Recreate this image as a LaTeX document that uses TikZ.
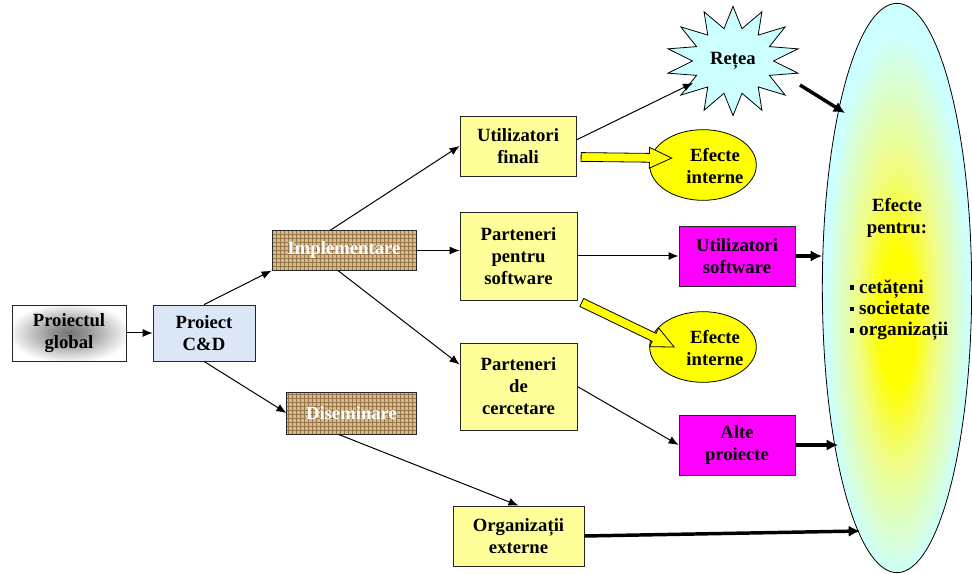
\documentclass[tikz,border=0pt]{standalone}
\usepackage{fontspec}
\setmainfont{Liberation Serif}
\usetikzlibrary{shapes.geometric,shapes.arrows,arrows.meta,calc,patterns}
\definecolor{lightyel}{RGB}{255,255,153}
\definecolor{brightyel}{RGB}{255,255,0}
\definecolor{pinkmag}{RGB}{255,0,255}
\definecolor{cdblue}{RGB}{219,231,246}
\definecolor{burlap}{RGB}{212,186,140}
\definecolor{burlapdk}{RGB}{150,118,72}
\definecolor{netcyan}{RGB}{204,255,255}
\definecolor{glowyel}{RGB}{255,255,0}
\definecolor{glowmid}{RGB}{240,252,130}
\pgfdeclareradialshading{effglow}{\pgfpoint{0bp}{-3bp}}{color(0bp)=(glowyel); color(6bp)=(glowyel); color(13bp)=(glowmid); color(24bp)=(netcyan); color(50bp)=(netcyan)}
\pgfdeclareradialshading{greyglow}{\pgfpointorigin}{color(0bp)=(black!55); color(8bp)=(black!42); color(27bp)=(white); color(50bp)=(white)}
\tikzset{
	lbl/.style={align=center, font=\fontsize{14}{16.5}\selectfont\bfseries},
	box/.style={lbl, draw=black!85, line width=0.6pt, inner sep=0pt},
	yelbox/.style={box, fill=lightyel},
	magbox/.style={box, fill=pinkmag},
	sackbox/.style={box, text=white, preaction={fill=burlap}, pattern=grid, pattern color=burlapdk},
	effoval/.style={ellipse, draw, fill=brightyel, line width=0.6pt, minimum width=80pt, minimum height=53pt, inner sep=0pt},
	thin/.style={line width=0.75pt, -{Latex[length=7.5pt,width=6pt]}},
	thick/.style={line width=2.6pt, -{Latex[length=8.5pt,width=8.5pt]}},
	fatarrow/.style={single arrow, draw, fill=brightyel, line width=0.6pt, inner sep=3pt,
		single arrow head extend=4.5pt, single arrow tip angle=50}
}
\newcommand{\yelarrow}[2]{%
	\path let \p1=(#1), \p2=(#2), \n1={atan2(\y2-\y1,\x2-\x1)}, \n2={veclen(\x2-\x1,\y2-\y1)} in
		node[fatarrow, minimum height=\n2, rotate=\n1] at ($(\p1)!0.5!(\p2)$) {};}

\begin{document}
\begin{tikzpicture}[x=0.75pt, y=-0.75pt]
	\useasboundingbox (0,0) rectangle (972,574);

	% big oval on the right
	\node[ellipse, draw, line width=0.6pt, shading=effglow,
		minimum width=112pt, minimum height=427pt] (eff) at (897,288) {};
	\node[lbl] (efftitle) at (897,218) {Efecte\\pentru:};
	\node[lbl, anchor=west, align=left, font=\fontsize{14.5}{16}\selectfont\bfseries] (efflist) at (845,310)
		{\rule[0.15em]{3.5pt}{3.5pt} cetățeni\\ \rule[0.15em]{3.5pt}{3.5pt} societate\\ \rule[0.15em]{3.5pt}{3.5pt} organizații};

	% boxes
	\node[box, shading=greyglow, minimum width=85.5pt, minimum height=42pt] (global) at (69,333) {Proiectul\\global};
	\node[box, fill=cdblue, minimum width=76.5pt, minimum height=42pt] (cd) at (204,333) {Proiect\\C\&D};
	\node[sackbox, minimum width=108pt, minimum height=29.5pt] (impl) at (344,250.5) {Implementare};
	\node[sackbox, minimum width=97pt, minimum height=31.5pt] (disem) at (351.5,413) {Diseminare};
	\node[yelbox, minimum width=87pt, minimum height=45pt] (uf) at (518,146) {Utilizatori\\finali};
	\node[yelbox, minimum width=87.75pt, minimum height=66pt] (ps) at (518.5,256) {Parteneri\\pentru\\software};
	\node[yelbox, minimum width=87.75pt, minimum height=65.25pt] (pc) at (518.5,386.5) {Parteneri\\de\\cercetare};
	\node[yelbox, minimum width=98.25pt, minimum height=45pt] (oe) at (518.5,536) {Organizații\\externe};
	\node[magbox, minimum width=87pt, minimum height=45pt] (us) at (737,256) {Utilizatori\\software};
	\node[magbox, minimum width=87pt, minimum height=45pt] (ap) at (737,445) {Alte\\proiecte};
	\node[effoval] (ei1) at (703,165) {};
	\node[lbl] (ei1lbl) at (715,166) {Efecte\\interne};
	\node[effoval] (ei2) at (703,347) {};
	\node[lbl] (ei2lbl) at (715,348) {Efecte\\interne};
	\node[star, star points=14, star point ratio=1.65, draw, fill=netcyan, line width=0.6pt,
		minimum size=82pt, inner sep=0pt, xscale=1.22] (net) at (733,61) {};
	\node[lbl] (netlbl) at (net) {Rețea};

	% end points on the oval and the star
	\coordinate (netin) at (693,83);
	\coordinate (netout) at (800,85);
	\coordinate (effA) at (845,113);
	\coordinate (effC) at (838,445);
	\coordinate (effD) at (860,531);
	\coordinate (ufy) at ($(uf.north east)!0.68!(uf.south east)$);
	\coordinate (ei1in) at (667,158);
	\coordinate (ei2in) at (670,345);

	% connectors
	\draw[thin] (global) -- (cd);
	\draw[thin] (cd.north) -- (impl.south west);
	\draw[thin] (cd.south) -- (disem.west);
	\draw[thin] ($(impl.north)+(-14,0)$) -- (uf.west);
	\draw[thin] (impl.east) -- (impl.east -| ps.west);
	\draw[thin] ($(impl.south)+(-6,0)$) -- ($(pc.north west)!0.25!(pc.south west)$);
	\draw[thin] ($(disem.south)+(-13,0)$) -- (oe.north);
	\draw[thin] ($(uf.north east)!0.4!(uf.south east)$) -- (netin);
	\draw[thin] (ps.east) -- (us.west);
	\draw[thin] (pc.east) -- (ap.west);
	\yelarrow{ufy}{ei1in}
	\yelarrow{ps.south east}{ei2in}
	\draw[thick] (netout) -- (effA);
	\draw[thick] (us.east) -- (us.east -| eff.west);
	\draw[thick] (ap.east) -- (effC);
	\draw[thick] (oe.east) -- (effD);
\end{tikzpicture}
\end{document}
